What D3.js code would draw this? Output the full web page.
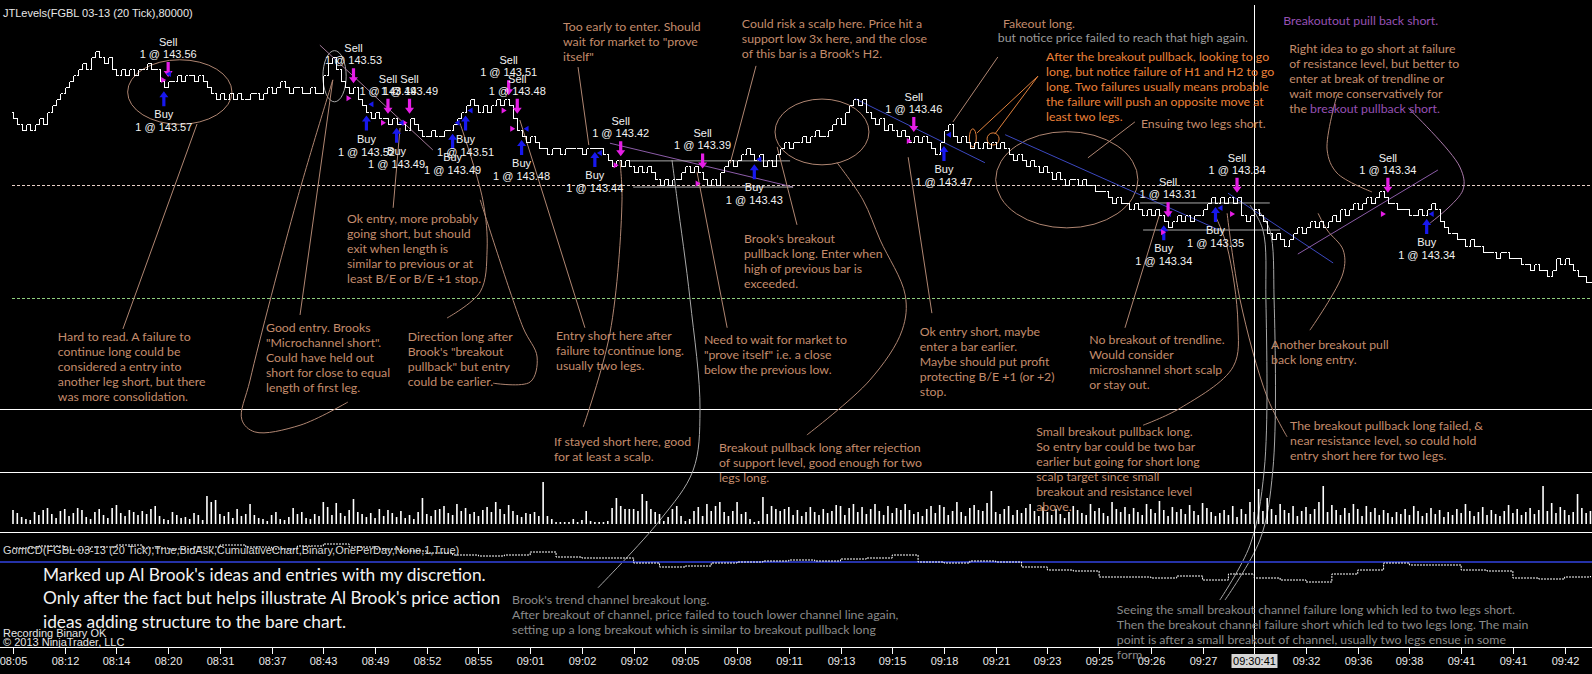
<!DOCTYPE html>
<html><head><meta charset="utf-8">
<script src="https://cdn.jsdelivr.net/npm/d3@7/dist/d3.min.js"></script>
<style>html,body{margin:0;padding:0;background:#000;overflow:hidden}</style>
</head><body>
<svg id="c" width="1592" height="674"></svg>
<script>
// ================= DATA =================
const BASE_PRICE = 143.00;           // prices below are ticks above this (1 tick = 0.01)
const barCloseTicks = [
 49,48,47,48,47,48,49,48, 50,51,52, 53,54,55, 56,57,58,57,59,60,59, 58,59,
 57,56,57,56,57,56,57,57, 58,57,57, 55,54,55,55, 56,55,56,56,55,56,55,
 54,53,52,53,52,53, 52,53,52,52,53,53,52, 53,54,53,54,55,54,53,54,54,
 53,53,54,53,53, 56,58,59, 57,55,54,53,54, 52,51,50,49,50,49,
 49,48,49,48,48,47,49,48,47, 46,46,47,46,46,47,47, 48,49,50,51,
 52,51,50,51,50,51,52, 51,52,51,49, 47,46,45,46,45,44,
 44,43,44,44,43,44,44,44,44,43,44,44,44,44, 43,42,41,
 42,41,42,41,40,41,40,41, 40,39,38,39,38,39,39, 40,41,40,41,40,
 39,38,39,38, 40,41,42,41,42, 43,44,43,42,43, 41,42,41,43,
 44,45,44,45,45, 46,45,46,47,46,46,47, 48,49,48,50,51, 52,51,52,50,
 49,48,49,47,48, 47,46,47, 46,45,46,45,46,45, 44,43,45, 47,48,
 46,45,46,45,44,45,44, 45,44,45,44,45, 44,43,42,43,42,41,42,
 41,40,41,40,39,40, 39,38,39,39,38,39,38,38,37,37, 37,36,35,36,35,35,
 34,35,34,33,34,33,34,33, 32,31, 32,33,32,33,32,33,33,
 34,35,36,35,36,35, 36,35,36,33,32, 33,34,33,32,30,29,30,29,28,29,
 30,31,30,31,32,31,32,31,32, 33,32,34,33,34,35,34, 35,36,35,36,37,36,
 35,35,34,34,34,33, 33,34,33,34,35,34,32, 31,30,30,29,29,28,29,
 28,28,27,27,27,26,27,27,26,26, 26,25,25,24,25, 24,24,23,24,
 26,25,26,25, 24,23,23,22,22
];
const barVolume = [
 14,11,7,5,4,12,9,14,16,10, 6,13,15,8,11,16,14,7,5,12, 15,9,6,16,19,11,8,14,12,9,
 13,10,15,18,8,5,4,12,9,6, 7,5,11,9,4,28,22,24,10,8, 12,6,15,8,10,20,9,6,5,3,
 9,12,5,4,7,16,10,12,6,5, 10,8,22,17,9,21,11,8,14,25, 12,10,7,11,6,15,8,14,11,7,
 13,6,9,5,12,26,10,8,14,15, 18,11,9,20,13,16,10,12,8,14, 17,12,22,15,10,19,13,9,7,11,
 10,12,8,42,8,5,2,2,2,2, 5,2,4,13,3,2,2,2,3,16, 26,18,15,15,15,13,30,23,15,12,
 10,3,7,15,18,8,3,5,13,17, 8,20,13,18,22,12,8,13,22,10, 12,5,2,3,27,10,18,15,13,15,
 17,9,14,8,12,17,12,9,15,11, 13,19,18,9,16,20,12,17,10,15, 20,13,9,18,11,16,14,20,14,10,
 12,8,15,18,11,19,17,9,13,22, 12,8,16,19,14,13,21,33,12,10, 15,18,9,14,11,16,20,13,8,17,
 12,9,15,10,6,12,18,14,11,9, 20,13,16,11,8,22,15,12,17,10, 16,12,9,20,15,11,23,14,8,17,
 12,15,10,19,13,9,21,16,12,8, 11,14,9,18,7,15,10,22,12,35, 13,26,15,9,20,14,11,18,8,13,
 17,10,15,22,38,12,19,14,9,16, 11,20,15,8,18,12,16,9,14,11, 7,12,10,15,9,18,13,8,11,16,
 10,14,7,12,9,15,11,20,13,8, 12,17,9,14,10,8,13,19,11,15, 9,12,16,10,14,38,13,21,11,17,
 14,9,12,30,16,11,13
];
// cumulative delta, sampled every 6 bars
const CD_STEP = 6;
const cumDelta = [14,16,12,15,17,14,13,15,17,15,13,16,18,15,13,11,9,7,6,7,10,5,4,4,-1,-5,-4,-1,0,1,2,1,3,4,7,0,-1,1,0,-5,-8,-9,-15,-15,-16,-14,-18,-12,-16,-18,-20,-12,-8,-1,-3,-3,-8,-9,-16,-17,-15,-14];
const LABEL_EVERY = 12;
const timeLabels = ["08:05","08:12","08:14","08:20","08:31","08:37","08:43","08:49","08:52","08:55","09:01","09:02","09:02","09:05","09:08","09:11","09:13","09:15","09:18","09:21","09:23","09:25","09:26","09:27","09:30","09:32","09:36","09:38","09:41","09:41","09:42"];
const crosshairBar = 288, crosshairLabel = "09:30:41";
const levelPrices = [143.379, 143.194];
const tradeSide  = ["Sell","Buy","Sell","Sell","Sell","Buy","Buy","Buy","Buy","Sell","Sell","Buy","Buy","Sell","Sell","Buy","Sell","Buy","Buy","Sell","Buy","Sell","Sell","Buy"];
const tradeBar   = [36,35,79,87,92,82,89,102,105,115,117,118,135,141,160,172,209,216,267,268,279,284,319,328];
const tradePrice = [143.56,143.57,143.53,143.49,143.49,143.52,143.49,143.49,143.51,143.51,143.48,143.48,143.44,143.42,143.39,143.43,143.46,143.47,143.34,143.31,143.35,143.34,143.34,143.34];

// ================= SETUP =================
const W = 1592, H = 674;
const svg = d3.select("#c");
svg.append("rect").attr("width",W).attr("height",H).attr("fill","#000");
const ARIAL = "'Liberation Sans', Arial, sans-serif";
const NOTE_FONT = "Lato, 'Open Sans', sans-serif";
const SAL="#c48c6c", ORG="#ec8038", PUR="#9650b4", GRY="#9a9a9a", GR2="#8a8a8a";
const LSAL="#b08672", LGRY="#a8a8a8", LORG="#e0803c", LBLU="#3c48c0", LPUR="#8c5ca8", LPNK="#a07896";

const nBars = barCloseTicks.length;
const x = d3.scaleLinear().domain([0, 366]).range([13, 13 + 366*4.31]);
const y = d3.scaleLinear().domain([143.56, 143.34]).range([75, 209]);
const yt = t => y(BASE_PRICE + t/100);
const P = ([b,t]) => [x(b), yt(t)];
const vy = d3.scaleLinear().domain([0,45]).range([524,479]);
const cy = d3.scaleLinear().domain([-20,20]).range([582,542]);

function measure(txt, font, size){
  const t = svg.append("text").attr("font-family",font).attr("font-size",size).text(txt);
  const w = t.node().getComputedTextLength(); t.remove(); return w;
}
const noteSize = 13 * 133 / measure("Hard to read. A failure to", NOTE_FONT, 13);
const bigSize = 20 * 443 / measure("Marked up Al Brook's ideas and entries with my discretion.", NOTE_FONT, 20);

// ================= PANEL LINES =================
const frame = svg.append("g").attr("stroke","#fff").attr("stroke-width",1).attr("shape-rendering","crispEdges");
[409, 472, 532, 647].forEach(v => frame.append("line").attr("x1",0).attr("x2",W).attr("y1",v+0.5).attr("y2",v+0.5));

// level lines
const levelColors = ["#e8cfc6", "#8fcf7f"];
levelPrices.forEach((p,k) => svg.append("line").attr("x1",12).attr("x2",W)
  .attr("y1",Math.round(y(p))+0.5).attr("y2",Math.round(y(p))+0.5)
  .attr("stroke",levelColors[k]).attr("stroke-dasharray","3,2").attr("stroke-width",1));

// ================= DRAWINGS (anchored in bar / tick space) =================
const dr = svg.append("g").attr("fill","none").attr("stroke-width",1);
const ellipses = [
  {c:[38.7,53.2], r:[12.1,5.3], s:LSAL},
  {c:[74.6,55.8], r:[2.7,4.2], s:LGRY},
  {c:[187.7,46.65], r:[10.9,5.4], s:LSAL},
  {c:[244.5,38.8], r:[16.5,7.9], s:LSAL},
  {c:[222.7,45.66], r:[0.8,1.5], s:LORG},
  {c:[227.4,45.5], r:[1.4,1.0], s:LORG}
];
ellipses.forEach(e => {
  const [cx0,cy0] = P(e.c);
  dr.append("ellipse").attr("cx",cx0).attr("cy",cy0)
    .attr("rx", x(e.c[0]+e.r[0]) - cx0).attr("ry", yt(e.c[1]-e.r[1]) - cy0).attr("stroke",e.s);
});
const straight = [
  {p:[[71.2,60.9],[97.4,43.7]], s:LPNK},
  {p:[[138.5,44.8],[181.0,37.6]], s:LPUR},
  {p:[[143.2,41.9],[180.3,41.9]], s:LGRY},
  {p:[[143.9,37.6],[181.0,37.6]], s:LGRY},
  {p:[[195.4,52.1],[225.5,41.6]], s:LBLU},
  {p:[[230.2,46.2],[280.0,30.5]], s:LBLU},
  {p:[[281.9,36.6],[306.3,25.14]], s:LBLU},
  {p:[[261.5,34.99],[291.6,34.99]], s:LGRY},
  {p:[[262.2,30.55],[294.0,30.55]], s:LGRY},
  {p:[[298.1,26.6],[330.6,40.4]], s:LPUR}
];
const leaders = [
  {p:[[25.5,14.3],[42.7,47.96]], s:LSAL},
  {p:[[66.6,16.6],[74.2,55.2]], s:LSAL},
  {p:[[74.2,55.2],[65.9,35.5],[55.0,5.9],[53.1,-0.6],[56.1,-2.6],[66.6,-1.5],[77.7,2.3]], s:LSAL},
  {p:[[88.2,34.2],[89.8,47.3]], s:LSAL},
  {p:[[103.7,48.1],[109.0,35.5],[110.0,27.3],[108.4,20.4],[100.7,16.1]], s:LSAL},
  {p:[[108.4,35.5],[118.3,14.6],[121.6,9.7],[120.0,5.6],[111.4,5.4]], s:LSAL},
  {p:[[132.7,14.5],[117.6,48.6]], s:LSAL},
  {p:[[132.3,-1.8],[138.5,13.6],[141.3,35.5],[140.8,42.05]], s:LSAL},
  {p:[[131.1,57.3],[133.6,44.5]], s:LSAL},
  {p:[[172.4,57.5],[166.4,41.5]], s:LSAL},
  {p:[[165.7,14.5],[158.7,40.1]], s:LSAL},
  {p:[[135.7,-28.2],[150.1,-17.1],[157.8,-8.9],[159.4,1.0],[157.1,19.1],[154.1,35.5],[152.9,42.05]], s:LGRY},
  {p:[[181.9,31.4],[177.3,44.2]], s:LSAL},
  {p:[[184.2,-3.1],[198.8,5.9],[206.3,14.1],[207.0,19.9],[201.2,28.9],[197.2,35.5],[191.2,41.6]], s:LSAL},
  {p:[[213.2,16.9],[207.7,42.5]], s:LSAL},
  {p:[[228.5,58.96],[218.1,48.3]], s:LSAL},
  {p:[[237.8,55.8],[223.7,46.5]], s:LORG},
  {p:[[237.8,55.8],[227.8,46.3]], s:LORG},
  {p:[[260.3,48.3],[249.4,42.4]], s:LSAL},
  {p:[[258.0,14.5],[266.1,33.3]], s:LSAL},
  {p:[[262.2,-1.5],[270.8,1.3],[283.1,8.1],[284.2,15.3],[281.7,27.8],[278.9,33.0]], s:LSAL},
  {p:[[300.9,14.1],[308.6,23.5],[308.6,27.3],[304.9,30.55],[302.8,33.3]], s:LSAL},
  {p:[[295.6,-3.4],[291.0,3.1],[284.7,19.1],[281.7,33.3]], s:LSAL},
  {p:[[280.0,-30.2],[287.0,-21.2],[290.3,-8.9],[290.7,19.06],[290.0,30.55],[287.0,34.66]], s:LGRY},
  {p:[[281.2,-30.2],[289.3,-20.35],[292.3,-8.9],[292.6,19.06],[291.6,30.55],[288.9,33.8]], s:LGRY},
  {p:[[307.2,52.7],[304.9,43.7],[307.2,39.9],[315.3,36.8]], s:LSAL},
  {p:[[323.7,50.6],[335.7,40.9],[336.4,37.1],[328.8,31.7]], s:"#a878a8"}
];
const curveGen = d3.line().x(d=>P(d)[0]).y(d=>P(d)[1]).curve(d3.curveCatmullRom.alpha(0.5));
straight.concat(leaders).forEach(l => dr.append("path").attr("d", curveGen(l.p)).attr("stroke", l.s));

// ================= PRICE BARS =================
const bars = svg.append("g").attr("stroke","#fff").attr("stroke-width",1).attr("fill","none").attr("shape-rendering","crispEdges");
barCloseTicks.forEach((c,i) => {
  const o = i ? barCloseTicks[i-1] : 50;
  const xi = Math.round(x(i)) + 0.5;
  const yo = Math.round(yt(o)) + 0.5, yc = Math.round(yt(c)) + 0.5;
  let d;
  if (o === c) d = `M${xi-2},${yc}H${xi+2}`;
  else d = `M${xi},${Math.min(yo,yc)}V${Math.max(yo,yc)}M${xi-2},${yo}H${xi}M${xi},${yc}H${xi+2}`;
  bars.append("path").attr("d", d);
});

// ================= TRADES =================
const tr = svg.append("g");
const fmt = d3.format(".2f");
tradeSide.forEach((s,k) => {
  const b = tradeBar[k], cx = x(b);
  const o = b ? barCloseTicks[b-1] : barCloseTicks[0], c = barCloseTicks[b];
  const col = s === "Sell" ? "#e61ee6" : "#1818ee";
  let pts, yLab1, yLab2;
  if (s === "Sell") {
    const tip = yt(Math.max(o,c)) - 4;
    pts = [[cx-1.6,tip-15],[cx+1.6,tip-15],[cx+1.6,tip-6],[cx+4.5,tip-6],[cx,tip],[cx-4.5,tip-6],[cx-1.6,tip-6]];
    yLab1 = tip - 35; yLab2 = tip - 23;
  } else {
    const tip = yt(Math.min(o,c)) + 4;
    pts = [[cx-1.6,tip+15],[cx+1.6,tip+15],[cx+1.6,tip+6],[cx+4.5,tip+6],[cx,tip],[cx-4.5,tip+6],[cx-1.6,tip+6]];
    yLab1 = tip + 23; yLab2 = tip + 36;
  }
  tr.append("polygon").attr("points", pts.map(p=>p.join(",")).join(" ")).attr("fill", col);
  // execution marker
  const ey = y(tradePrice[k]) + 5;
  const tri = s === "Sell" ? [[cx-7,ey-3],[cx-2,ey],[cx-7,ey+3]] : [[cx+7,ey-3],[cx+2,ey],[cx+7,ey+3]];
  tr.append("polygon").attr("points", tri.map(p=>p.join(",")).join(" ")).attr("fill", col);
  tr.append("text").attr("x",cx).attr("y",yLab1).text(s);
  tr.append("text").attr("x",cx).attr("y",yLab2).text("1 @ " + fmt(tradePrice[k]));
});
tr.selectAll("text").attr("font-family",ARIAL).attr("font-size",11).attr("fill","#f2f2f2")
  .attr("text-anchor","middle").attr("dominant-baseline","central");

// ================= VOLUME =================
const vol = svg.append("g").attr("stroke","#fff").attr("stroke-width",1.6);
barVolume.forEach((v,i) => vol.append("line").attr("x1",x(i)).attr("x2",x(i)).attr("y1",vy(0)).attr("y2",vy(v)));

// ================= CUMULATIVE DELTA =================
svg.append("line").attr("x1",0).attr("x2",W).attr("y1",cy(0)).attr("y2",cy(0)).attr("stroke","#2532a8").attr("stroke-width",2);
svg.append("path").attr("d", d3.line().x((d,k)=>x(k*CD_STEP)).y(d=>cy(d)).curve(d3.curveStepAfter)(cumDelta))
  .attr("fill","none").attr("stroke","#fff").attr("stroke-width",1).attr("stroke-dasharray","2,1");

// ================= CROSSHAIR =================
const chx = Math.round(x(crosshairBar)) + 0.5;
svg.append("line").attr("x1",chx).attr("x2",chx).attr("y1",5).attr("y2",647).attr("stroke","#fff").attr("stroke-width",1);

// ================= TIME AXIS =================
const ax = svg.append("g");
timeLabels.forEach((l,k) => {
  const tx = Math.round(x(k*LABEL_EVERY)) + 0.5;
  ax.append("line").attr("x1",tx).attr("x2",tx).attr("y1",647).attr("y2",654).attr("stroke","#fff");
  if (Math.abs(k*LABEL_EVERY - crosshairBar) > 6)
    ax.append("text").attr("x",tx).attr("y",661).text(l);
});
ax.append("rect").attr("x",chx-23).attr("y",654).attr("width",46).attr("height",14).attr("fill","#d6d6d6");
ax.append("text").attr("x",chx).attr("y",661).attr("fill","#000").attr("class","ch").text(crosshairLabel);
ax.selectAll("text").attr("font-family",ARIAL).attr("font-size",11).attr("text-anchor","middle").attr("dominant-baseline","central")
  .attr("fill", function(){ return this.getAttribute("class")==="ch" ? "#000" : "#eaeaea"; });

// ================= NOTES (anchored in bar / tick space) =================
const notes = [
  {at:[10.4,13.0], c:SAL, lines:["Hard to read. A failure to","continue long could be","considered a entry into","another leg short, but there","was more consolidation."]},
  {at:[58.7,14.6], c:SAL, lines:["Good entry.  Brooks","\"Microchannel short\".","Could have held out","short for close to equal","length of first leg."]},
  {at:[77.5,32.4], c:SAL, lines:["Ok entry, more probably","going short, but should","exit when length is","similar to previous or at","least B/E or B/E +1 stop."]},
  {at:[91.6,13.0], c:SAL, lines:["Direction long after","Brook's \"breakout","pullback\" but  entry","could be earlier."]},
  {at:[127.6,63.9], c:SAL, lines:["Too early to enter. Should","wait for market to \"prove","itself\""]},
  {at:[169.1,64.4], c:SAL, lines:["Could risk a scalp here. Price hit a","support low 3x here, and the close","of this bar is a Brook's H2."]},
  {at:[229.7,64.5], c:SAL, lines:["Fakeout long."]},
  {at:[228.5,62.1], c:GRY, lines:["but notice price failed to reach that high again."]},
  {at:[239.7,59.1], c:ORG, lines:["After the breakout pullback, looking to go","long, but notice failure of H1 and H2 to go","long. Two failures usually means probable","the failure will push an opposite move at","least two legs."]},
  {at:[261.7,48.1], c:SAL, lines:["Ensuing two legs short."]},
  {at:[294.7,65.0], c:PUR, lines:["Breakoutout puill back short."]},
  {at:[296.1,60.4], c:SAL, lines:["Right idea to go short at failure","of resistance level, but better to","enter at break of trendline or","wait more conservatively for",[["the ",SAL],["breakout pullback short.",PUR]]]},
  {at:[169.6,29.1], c:SAL, lines:["Brook's breakout","pullback long. Enter when","high of previous bar is","exceeded."]},
  {at:[126.0,13.15], c:SAL, lines:["Entry short here after","failure to continue long.","usually two legs."]},
  {at:[160.3,12.5], c:SAL, lines:["Need to wait for market to","\"prove itself\" i.e. a close","below the previous low."]},
  {at:[210.4,13.97], c:SAL, lines:["Ok entry short, maybe","enter a bar earlier.","Maybe should put profit","protecting B/E +1 (or +2)","stop."]},
  {at:[125.5,-4.1], c:SAL, lines:["If stayed short here, good","for at least a scalp."]},
  {at:[163.8,-5.1], c:SAL, lines:["Breakout pullback long after rejection","of support level, good enough for two","legs long."]},
  {at:[237.4,-2.6], c:SAL, lines:["Small breakout pullback long.","So entry bar could be two bar","earlier but going for short long","scalp target since small","breakout and resistance level","above."]},
  {at:[249.7,12.65], c:SAL, lines:["No breakout of trendline.","Would consider","microshannel short scalp","or stay out."]},
  {at:[291.9,11.8], c:SAL, lines:["Another breakout pull","back long entry."]},
  {at:[296.3,-1.5], c:SAL, lines:["The breakout pullback long failed, &","near resistance level, so could hold","entry short here for two legs."]},
  {at:[115.8,-30.04], c:GR2, lines:["Brook's trend channel breakout long.","After breakout of channel, price failed to touch lower channel line again,","setting up a long breakout which is similar to breakout pullback long"]},
  {at:[256.1,-31.8], c:GR2, lines:["Seeing the small breakout channel failure long which led to two legs short.","Then the breakout channel failure short which led to two legs long. The main","point is after a small breakout of channel, usually two legs ensue in some","form."]}
];
const nt = svg.append("g").attr("font-family",NOTE_FONT).attr("font-size",noteSize).attr("dominant-baseline","central");
notes.forEach(n => {
  const [nx, ny] = P(n.at);
  n.lines.forEach((ln, j) => {
    const t = nt.append("text").attr("x",nx).attr("y",ny + j*15).attr("fill",n.c);
    if (Array.isArray(ln)) ln.forEach(([s,c]) => t.append("tspan").attr("fill",c).text(s));
    else t.text(ln);
  });
});

// ================= PANEL TEXTS =================
const pt = svg.append("g").attr("dominant-baseline","central");
pt.append("text").attr("x",3).attr("y",13).attr("font-family",ARIAL).attr("font-size",11).attr("fill","#e8e8e8")
  .text("JTLevels(FGBL 03-13 (20 Tick),80000)");
pt.append("text").attr("x",3).attr("y",550).attr("font-family",ARIAL).attr("font-size",11).attr("fill","#d8d8d8")
  .text("GomCD(FGBL 03-13 (20 Tick),True,BidAsk,CumulativeChart,Binary,OnePerDay,None,1,True)");
["Marked up Al Brook's ideas and entries with my discretion.",
 "Only after the fact but helps illustrate Al Brook's price action",
 "ideas adding structure to the bare chart."].forEach((s,j) =>
  pt.append("text").attr("x",43).attr("y",574 + j*23.5).attr("font-family",NOTE_FONT).attr("font-size",bigSize).attr("fill","#f2f2f2").text(s));
pt.append("text").attr("x",3).attr("y",633).attr("font-family",ARIAL).attr("font-size",11).attr("fill","#e6e6e6").text("Recording Binary OK");
pt.append("text").attr("x",3).attr("y",642).attr("font-family",ARIAL).attr("font-size",11).attr("fill","#e6e6e6").text("\u00A9 2013 NinjaTrader, LLC");
</script>
</body></html>
